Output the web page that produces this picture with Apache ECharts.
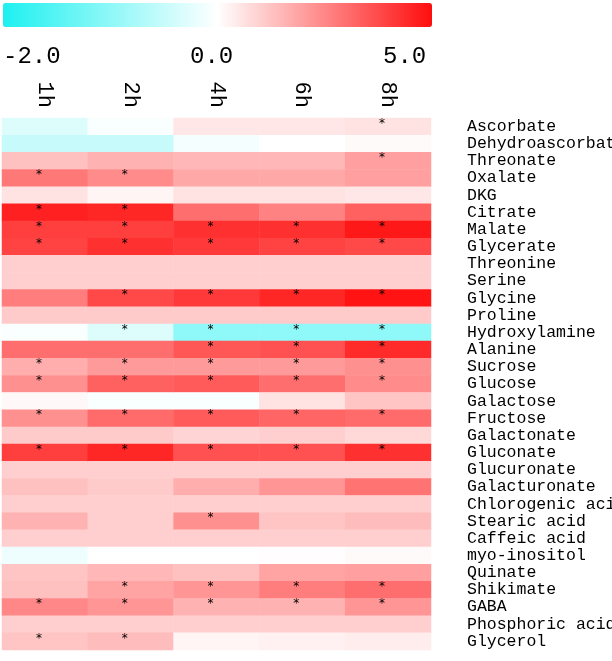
<!DOCTYPE html>
<html>
<head>
<meta charset="utf-8">
<script src="https://cdn.jsdelivr.net/npm/echarts@6/dist/echarts.min.js"></script>
<style>html,body{margin:0;padding:0;background:#fff;}#c{width:612px;height:661px;}</style>
</head>
<body>
<div id="c"></div>
<script>
var timepoints = ['1h', '2h', '4h', '6h', '8h'];
var metabolites = ['Ascorbate','Dehydroascorbate','Threonate','Oxalate','DKG','Citrate','Malate','Glycerate','Threonine','Serine','Glycine','Proline','Hydroxylamine','Alanine','Sucrose','Glucose','Galactose','Fructose','Galactonate','Gluconate','Glucuronate','Galacturonate','Chlorogenic acid','Stearic acid','Caffeic acid','myo-inositol','Quinate','Shikimate','GABA','Phosphoric acid','Glycerol'];
var v1h = [-0.3,-0.5,1.3,2.8,0.6,4.6,4.0,3.9,1.0,1.0,2.7,1.1,-0.05,3.0,1.7,2.3,0.15,2.3,1.1,4.0,1.0,1.3,1.0,1.6,1.0,-0.15,1.2,1.3,2.5,1.0,1.2];
var v2h = [-0.05,-0.5,1.6,2.4,0.2,4.5,4.0,4.3,1.0,1.0,3.8,1.1,-0.3,3.0,2.1,3.3,-0.05,3.1,1.1,4.5,1.0,1.1,1.0,1.0,1.0,0.0,1.5,1.9,2.2,1.0,1.4];
var v4h = [0.5,-0.1,1.5,1.8,0.6,3.0,4.3,4.1,1.0,1.0,4.1,1.1,-1.0,3.5,2.1,3.4,-0.05,3.4,0.9,3.6,1.0,1.7,1.0,2.3,1.0,0.0,1.3,2.2,1.6,1.0,0.2];
var v6h = [0.5,0.0,1.5,1.8,0.6,2.6,4.3,3.9,1.0,1.0,4.5,1.1,-1.0,3.6,2.1,3.0,0.6,3.2,1.0,3.6,1.0,2.2,1.0,1.2,1.0,0.05,1.9,2.7,1.6,1.0,0.3];
var v8h = [0.6,0.1,2.0,2.0,0.5,3.3,4.8,3.8,1.0,1.0,4.9,1.1,-1.0,4.4,2.3,2.4,1.2,3.1,0.8,4.3,1.0,2.9,1.0,1.4,1.0,0.1,2.0,3.0,2.2,1.0,0.4];
// significance marks (*) per metabolite, order 1h 2h 4h 6h 8h
var significant = ['00001','00000','00001','11000','00000','11000','11111','11111','00000','00000','01111','00000','01111','00111','11111','11111','00000','11111','00000','11111','00000','00000','00000','00100','00000','00000','00000','01111','11111','00000','11000'];
var scaleTicks = ['-2.0', '0.0', '5.0'];
var scaleMin = -2, scaleMax = 5;

var columns = [v1h, v2h, v4h, v6h, v8h];
var data = [];
for (var c = 0; c < columns.length; c++) {
  for (var r = 0; r < metabolites.length; r++) {
    var v = columns[c][r];
    // colour coordinate: -2..0 maps to -1..0, 0..5 maps to 0..1 (as in the colour bar)
    var t = v < 0 ? v / -scaleMin : v / scaleMax;
    data.push([c, r, v, t, significant[r].charAt(c) === '1' ? 1 : 0]);
  }
}

var chart = echarts.init(document.getElementById('c'), null, {renderer: 'canvas'});
chart.setOption({
  animation: false,
  backgroundColor: '#ffffff',
  grid: {left: 2, right: 181, top: 118, bottom: 11, containLabel: false, outerBoundsMode: 'none'},
  xAxis: {
    type: 'category', data: timepoints, position: 'top',
    axisLine: {show: false}, axisTick: {show: false}, splitLine: {show: false},
    axisLabel: {rotate: 90, margin: 10, interval: 0, fontFamily: 'Liberation Mono', fontSize: 22, color: '#000', padding: [0, 0, 8, 0]}
  },
  yAxis: {
    type: 'category', data: metabolites, inverse: true, position: 'right',
    axisLine: {show: false}, axisTick: {show: false}, splitLine: {show: false},
    axisLabel: {margin: 36, interval: 0, hideOverlap: false, fontFamily: 'Liberation Mono', fontSize: 16.5, color: '#000'}
  },
  visualMap: {
    type: 'continuous', orient: 'horizontal', dimension: 3,
    min: -1, max: 1, calculable: false, showLabel: false, text: null,
    left: 3, top: 3, itemWidth: 24, itemHeight: 429, padding: 0,
    inRange: {color: ['#1ef0f0', '#ffffff', '#ff0e0e']},
    seriesIndex: 0
  },
  graphic: [
    {type: 'text', left: 3, top: 45, style: {text: scaleTicks[0], font: '24px "Liberation Mono"', fill: '#000'}},
    {type: 'text', left: 190, top: 45, style: {text: scaleTicks[1], font: '24px "Liberation Mono"', fill: '#000'}},
    {type: 'text', left: 383, top: 45, style: {text: scaleTicks[2], font: '24px "Liberation Mono"', fill: '#000'}}
  ],
  series: [{
    type: 'heatmap',
    data: data,
    encode: {x: 0, y: 1},
    label: {
      show: true, color: '#000', fontSize: 12, fontFamily: 'DejaVu Sans',
      offset: [-6, -3],
      formatter: function (p) { return p.data[4] ? '*' : ''; }
    },
    itemStyle: {borderWidth: 0}
  }]
});
</script>
</body>
</html>
